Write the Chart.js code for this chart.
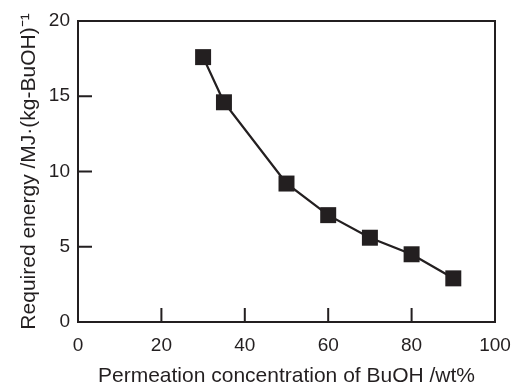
<!DOCTYPE html>
<html>
<head>
<meta charset="utf-8">
<script src="https://cdn.jsdelivr.net/npm/chart.js@4.4.1/dist/chart.umd.min.js"></script>
<style>
html,body{margin:0;padding:0;background:#fff;}
#wrap{width:514px;height:387px;}
</style>
</head>
<body>
<div id="wrap"><canvas id="c" width="514" height="387"></canvas></div>
<script>
const concentration = [30, 35, 50, 60, 70, 80, 90];
const requiredEnergy = [17.6, 14.6, 9.2, 7.1, 5.6, 4.5, 2.9];
const xTicks = [0, 20, 40, 60, 80, 100];
const yTicks = [0, 5, 10, 15, 20];
const xTitle = 'Permeation concentration of BuOH /wt%';
const yTitle = 'Required energy /MJ·(kg-BuOH)⁻¹';

const ink = '#231f20';
const FONT = '"Liberation Sans", Arial, sans-serif';

const frame = {
  id: 'frame',
  afterDatasetsDraw(chart) {
    const {ctx, chartArea: {left, right, top, bottom}, scales: {x, y}} = chart;
    ctx.save();
    ctx.strokeStyle = ink;
    ctx.lineWidth = 2;
    ctx.beginPath();
    ctx.moveTo(left, top);
    ctx.lineTo(right, top);
    ctx.lineTo(right, bottom);
    xTicks.forEach(v => { const px = x.getPixelForValue(v); ctx.moveTo(px, bottom); ctx.lineTo(px, bottom - 14); });
    yTicks.forEach(v => { const py = y.getPixelForValue(v); ctx.moveTo(left, py); ctx.lineTo(left + 14, py); });
    ctx.stroke();
    ctx.restore();
  }
};

new Chart(document.getElementById('c'), {
  type: 'scatter',
  data: {
    datasets: [{
      data: concentration.map((c, i) => ({x: c, y: requiredEnergy[i]})),
      showLine: true,
      borderColor: ink,
      borderWidth: 2.3,
      backgroundColor: ink,
      pointStyle: 'rect',
      pointRadius: 11.3,
      pointHoverRadius: 11.3,
      pointBorderWidth: 0
    }]
  },
  options: {
    responsive: false,
    animation: false,
    events: [],
    layout: {padding: {left: 0, right: 19, top: 21, bottom: 0}},
    plugins: {legend: {display: false}, tooltip: {enabled: false}},
    scales: {
      x: {
        type: 'linear', min: 0, max: 100,
        afterBuildTicks: s => { s.ticks = xTicks.map(v => ({value: v})); },
        afterFit: s => { s.height = 65; s.paddingLeft = 0; s.paddingRight = 0; },
        grid: {display: false, drawTicks: false},
        border: {display: true, color: ink, width: 2},
        ticks: {color: ink, font: {family: FONT, size: 19}, padding: 12, maxRotation: 0},
        title: {display: true, text: xTitle, color: ink, font: {family: FONT, size: 21, lineHeight: 1}, padding: {top: 0, bottom: 0}}
      },
      y: {
        type: 'linear', min: 0, max: 20,
        afterBuildTicks: s => { s.ticks = yTicks.map(v => ({value: v})); },
        afterFit: s => { s.width = 78; s.paddingTop = 0; s.paddingBottom = 0; },
        grid: {display: false, drawTicks: false},
        border: {display: true, color: ink, width: 2},
        ticks: {color: ink, font: {family: FONT, size: 19}, padding: 8},
        title: {display: true, text: yTitle, color: ink, font: {family: FONT, size: 21, lineHeight: 1}, padding: {top: 19, bottom: 0}}
      }
    }
  },
  plugins: [frame]
});
</script>
</body>
</html>
